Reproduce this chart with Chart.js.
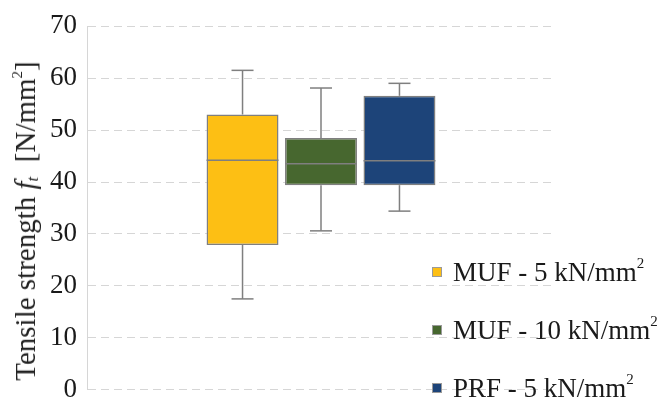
<!DOCTYPE html>
<html>
<head>
<meta charset="utf-8">
<script src="https://cdn.jsdelivr.net/npm/chart.js@4/dist/chart.umd.min.js"></script>
<style>
  html, body { margin: 0; padding: 0; background: #fff; }
  #wrap { position: relative; width: 661px; height: 400px; overflow: hidden; }
  #ytitle {
    position: absolute; left: 26px; top: 221px;
    transform: translate(-50%, -50%) rotate(-90deg);
    white-space: nowrap; font-family: "Liberation Serif", serif; font-size: 29px; color: #222;
  }
  #ytitle sub { font-size: 17px; vertical-align: -3px; }
  #ytitle sup, #legend sup { font-size: 15px; vertical-align: 13px; line-height: 0; }
  #legend { position: absolute; left: 432px; top: 243px; font-family: "Liberation Serif", serif; font-size: 27px; color: #1a1a1a; }
  #legend .row { height: 58px; display: flex; align-items: center; white-space: nowrap; }
  #legend .sw { width: 10px; height: 10px; margin-right: 11px; border: 1px solid #9a9a9a; box-sizing: border-box; }
</style>
</head>
<body>
<div id="wrap">
  <canvas id="chart" width="661" height="416"></canvas>
  <div id="ytitle">Tensile strength <i>f</i><sub><i>t</i></sub> &nbsp;[N/mm<sup>2</sup>]</div>
  <div id="legend"></div>
</div>
<script>
const seriesNames = ["MUF - 5 kN/mm", "MUF - 10 kN/mm", "PRF - 5 kN/mm"];
const colors = ["#fdbf14", "#47672f", "#1d4479"];

// box plot statistics
const mins = [17.5, 30.6, 34.4];
const q1s = [27.9, 39.4, 39.4];
const medians = [44.2, 43.5, 44.1];
const q3s = [53.0, 48.5, 56.6];
const maxs = [61.5, 58.1, 59.0];

const yTicks = [0, 10, 20, 30, 40, 50, 60, 70];

/* ---------- whiskers + median ---------- */
const boxPlugin = {
  id: "boxExtras",
  afterDatasetsDraw(chart) {
    const c = chart.ctx;
    const y = chart.scales.y;
    c.save();
    c.strokeStyle = "#7f7f7f";
    c.lineWidth = 1.5;
    seriesNames.forEach((_, i) => {
      const bar = chart.getDatasetMeta(i).data[0];
      const x = bar.x, half = bar.width / 2, cap = 11;
      const line = (x1, y1, x2, y2) => {
        c.beginPath(); c.moveTo(x1, y1); c.lineTo(x2, y2); c.stroke();
      };
      line(x, y.getPixelForValue(maxs[i]), x, y.getPixelForValue(q3s[i]));
      line(x, y.getPixelForValue(q1s[i]), x, y.getPixelForValue(mins[i]));
      line(x - cap, y.getPixelForValue(maxs[i]), x + cap, y.getPixelForValue(maxs[i]));
      line(x - cap, y.getPixelForValue(mins[i]), x + cap, y.getPixelForValue(mins[i]));
      line(x - half, y.getPixelForValue(medians[i]), x + half, y.getPixelForValue(medians[i]));
    });
    c.restore();
  }
};

new Chart(document.getElementById("chart"), {
  type: "bar",
  data: {
    labels: [""],
    datasets: seriesNames.map((name, i) => ({
      label: name + "²",
      data: [[q1s[i], q3s[i]]],
      backgroundColor: colors[i],
      borderColor: "#7f7f7f",
      borderWidth: 1.5,
      borderSkipped: false,
      categoryPercentage: 0.503,
      barPercentage: 0.917,
    })),
  },
  options: {
    responsive: false,
    animation: false,
    layout: { padding: { top: 8, right: 106, left: 0, bottom: 0 } },
    plugins: { legend: { display: false }, tooltip: { enabled: false } },
    scales: {
      x: {
        grid: { display: false },
        border: { display: false },
        ticks: { display: false },
      },
      y: {
        min: 0, max: 70,
        afterBuildTicks: s => { s.ticks = yTicks.map(v => ({ value: v })); },
        afterFit: s => { s.width = 87; },
        grid: { color: "#d6d6d6", lineWidth: 1, drawTicks: false },
        border: { display: true, color: "#d6d6d6", dash: [8, 5] },
        ticks: {
          padding: 10,
          color: "#1a1a1a",
          font: { family: "Liberation Serif", size: 27 },
        },
      },
    },
  },
  plugins: [boxPlugin],
});

/* ---------- legend ---------- */
document.getElementById("legend").innerHTML = seriesNames.map((n, i) =>
  `<div class="row"><span class="sw" style="background:${colors[i]}"></span><span>${n}<sup>2</sup></span></div>`
).join("");
</script>
</body>
</html>
